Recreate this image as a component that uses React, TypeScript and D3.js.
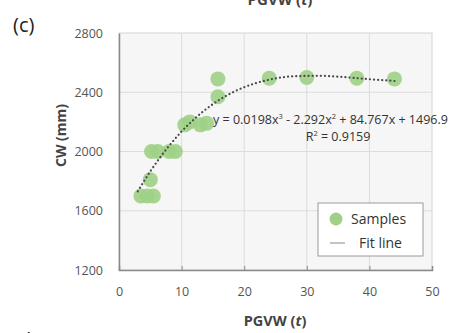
import { useEffect, useRef } from 'react'
import * as d3 from 'd3'

// samples
const sampleX = [3.5, 4.5, 5.5, 5, 5.2, 6.2, 8, 9, 10.5, 11.3, 13, 14, 15.8, 15.8, 24, 30, 38, 44]
const sampleY = [1700, 1700, 1700, 1810, 2000, 2000, 2000, 2000, 2180, 2200, 2180, 2190, 2370, 2490, 2495, 2500, 2495, 2490]

// fit line points
const fitX = [3, 5, 8, 10, 12, 15, 18, 20, 24, 28, 32, 36, 40, 44]
const fitY = [1731, 1866, 2038, 2135, 2218, 2320, 2396, 2434, 2485, 2508, 2511, 2502, 2488, 2476]

const xTicks = [0, 10, 20, 30, 40, 50]
const yTicks = [1200, 1600, 2000, 2400, 2800]

export default function App() {
  const svgRef = useRef<SVGSVGElement>(null)

  useEffect(() => {
    if (!svgRef.current) return
    const svg = d3.select(svgRef.current)
    svg.selectAll('*').remove()

    const width = 459
    const height = 333
    const margin = { top: 33, right: 27, bottom: 63, left: 119 }
    const innerWidth = width - margin.left - margin.right
    const innerHeight = height - margin.top - margin.bottom
    const font = "'Open Sans', 'Liberation Sans', sans-serif"

    svg.attr('width', width).attr('height', height).style('background', '#fff')

    const x = d3.scaleLinear().domain([0, 50]).range([0, innerWidth])
    const y = d3.scaleLinear().domain([1200, 2800]).range([innerHeight, 0])

    // clipped title from the panel above
    svg.append('text')
      .attr('x', 280).attr('y', 5)
      .attr('text-anchor', 'middle')
      .attr('font-family', font).attr('font-weight', 'bold').attr('font-size', 15)
      .attr('fill', '#444')
      .html('PGVW (<tspan font-style="italic">t</tspan>)')

    svg.append('text')
      .attr('x', 13).attr('y', 32)
      .attr('font-family', font).attr('font-size', 20)
      .attr('fill', '#222')
      .text('(c)')

    svg.append('text')
      .attr('x', 13).attr('y', 347)
      .attr('font-family', font).attr('font-size', 20)
      .attr('fill', '#222')
      .text('(d)')

    const g = svg.append('g')
      .attr('transform', `translate(${margin.left},${margin.top})`)

    g.append('rect')
      .attr('width', innerWidth).attr('height', innerHeight)
      .attr('fill', '#f6f6f6')
      .attr('stroke', '#d4d4d4')

    // grid
    g.selectAll('.vgrid')
      .data(xTicks.slice(1, -1))
      .join('line')
      .attr('x1', d => x(d)).attr('x2', d => x(d))
      .attr('y1', 0).attr('y2', innerHeight)
      .attr('stroke', '#dcdcdc')

    g.selectAll('.hgrid')
      .data(yTicks.slice(1, -1))
      .join('line')
      .attr('y1', d => y(d)).attr('y2', d => y(d))
      .attr('x1', 0).attr('x2', innerWidth)
      .attr('stroke', '#dcdcdc')

    // axes
    const xAxis = g.append('g')
      .attr('transform', `translate(0,${innerHeight})`)
      .call(d3.axisBottom(x).tickValues(xTicks).tickFormat(d3.format('d')).tickSize(-4).tickPadding(17))
    const yAxis = g.append('g')
      .call(d3.axisLeft(y).tickValues(yTicks).tickFormat(d3.format('d')).tickSize(0).tickPadding(16))

    for (const ax of [xAxis, yAxis]) {
      ax.select('.domain').attr('stroke', '#8a8a8a').attr('stroke-width', 1.5)
      ax.selectAll('.tick line').attr('stroke', '#8a8a8a')
      ax.selectAll('.tick text')
        .attr('font-family', font).attr('font-size', 12.5).attr('fill', '#555')
    }

    // samples
    g.selectAll('.pt')
      .data(sampleX.map((d, i) => [d, sampleY[i]]))
      .join('circle')
      .attr('cx', d => x(d[0]))
      .attr('cy', d => y(d[1]))
      .attr('r', 7.5)
      .attr('fill', '#9fd085')
      .attr('fill-opacity', 0.9)

    // fit line
    const line = d3.line<number>()
      .x(d => x(d))
      .y((_, i) => y(fitY[i]))
      .curve(d3.curveMonotoneX)

    g.append('path')
      .datum(fitX)
      .attr('d', line)
      .attr('fill', 'none')
      .attr('stroke', '#4a4a4a')
      .attr('stroke-width', 2.2)
      .attr('stroke-linecap', 'round')
      .attr('stroke-dasharray', '0.1 4')

    // equation
    g.append('text')
      .attr('x', 94).attr('y', 91)
      .attr('font-family', font).attr('font-size', 12.5).attr('fill', '#333')
      .html('y = 0.0198x<tspan dy="-5" font-size="7.5">3</tspan><tspan dy="5"> - 2.292x</tspan><tspan dy="-5" font-size="7.5">2</tspan><tspan dy="5"> + 84.767x + 1496.9</tspan>')

    g.append('text')
      .attr('x', 219).attr('y', 108)
      .attr('text-anchor', 'middle')
      .attr('font-family', font).attr('font-size', 12.5).attr('fill', '#333')
      .html('R<tspan dy="-5" font-size="7.5">2</tspan><tspan dy="5"> = 0.9159</tspan>')

    // legend
    const lg = svg.append('g').attr('transform', 'translate(318,203)')
    lg.append('rect')
      .attr('width', 105).attr('height', 53)
      .attr('fill', '#fff').attr('stroke', '#9a9a9a')
    lg.append('circle')
      .attr('cx', 18).attr('cy', 16).attr('r', 6.5)
      .attr('fill', '#9fd085')
    lg.append('text')
      .attr('x', 33).attr('y', 21)
      .attr('font-family', font).attr('font-size', 14).attr('fill', '#333')
      .text('Samples')
    lg.append('line')
      .attr('x1', 12).attr('x2', 27).attr('y1', 40).attr('y2', 40)
      .attr('stroke', '#888').attr('stroke-width', 1)
    lg.append('text')
      .attr('x', 41).attr('y', 45)
      .attr('font-family', font).attr('font-size', 14).attr('fill', '#333')
      .text('Fit line')

    // axis titles
    svg.append('text')
      .attr('x', 275).attr('y', 326)
      .attr('text-anchor', 'middle')
      .attr('font-family', font).attr('font-weight', 'bold').attr('font-size', 14.5)
      .attr('fill', '#444')
      .html('PGVW (<tspan font-style="italic">t</tspan>)')

    svg.append('text')
      .attr('transform', `translate(66,${margin.top + innerHeight / 2 - 16}) rotate(-90)`)
      .attr('text-anchor', 'middle')
      .attr('font-family', font).attr('font-weight', 'bold').attr('font-size', 14)
      .attr('fill', '#444')
      .text('CW (mm)')
  }, [])

  return <svg ref={svgRef} style={{ position: 'absolute', left: 0, top: 0, display: 'block' }} />
}
